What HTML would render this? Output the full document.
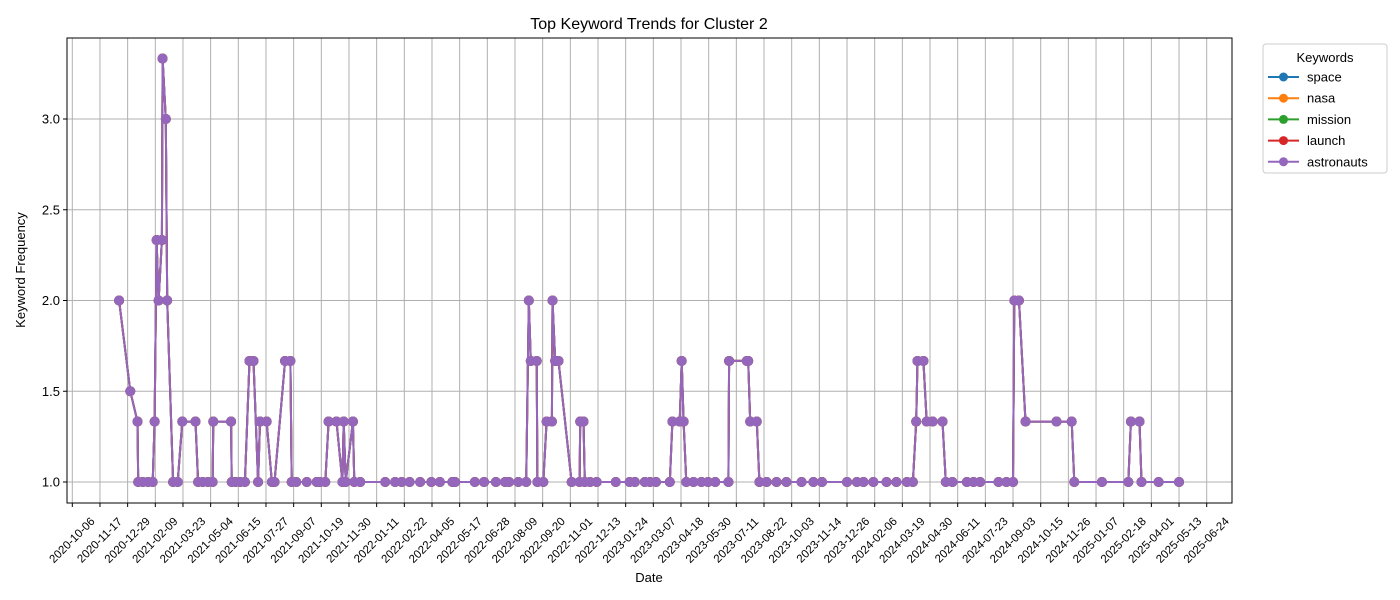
<!DOCTYPE html>
<html><head><meta charset="utf-8"><style>
html,body{margin:0;padding:0;background:#fff;}
svg{display:block;font-family:"Liberation Sans","DejaVu Sans",sans-serif;}
</style></head><body>
<svg id="chart" width="1400" height="600">
<text x="649" y="29" text-anchor="middle" font-size="16" fill="#000">Top Keyword Trends for Cluster 2</text>
<text x="649" y="582" text-anchor="middle" font-size="13">Date</text>
<text transform="translate(25,270) rotate(-90)" text-anchor="middle" font-size="13">Keyword Frequency</text>
<g id="grid"></g><g id="series"></g><g id="axes"></g>
<g id="legend"></g>
</svg>
<script>
const startDate = '2020-10-06';
const dayOffsets = [71,88,99,100,107,115,122,125,128,131,136,137,142,144,153,160,167,187,191,198,206,213,214,241,242,248,255,262,269,275,282,285,295,303,307,323,331,333,340,356,371,376,384,389,401,410,412,415,426,428,437,475,490,500,512,528,545,558,577,581,611,625,643,657,663,677,689,693,696,705,706,715,720,728,729,733,738,758,770,771,776,778,786,796,825,846,854,869,877,886,907,911,922,925,928,932,943,955,965,976,996,997,1024,1026,1029,1039,1043,1054,1069,1084,1107,1125,1138,1176,1191,1201,1216,1236,1251,1267,1276,1281,1283,1292,1297,1306,1321,1326,1336,1358,1368,1378,1406,1418,1428,1430,1437,1447,1494,1517,1521,1563,1603,1607,1620,1623,1649,1680];
const freqValues = [2,1.5,1.333,1,1,1,1,1.333,2.333,2,2.333,3.333,3,2,1,1,1.333,1.333,1,1,1,1,1.333,1.333,1,1,1,1,1.667,1.667,1,1.333,1.333,1,1,1.667,1.667,1,1,1,1,1,1,1.333,1.333,1,1.333,1,1.333,1,1,1,1,1,1,1,1,1,1,1,1,1,1,1,1,1,1,2,1.667,1.667,1,1,1.333,1.333,2,1.667,1.667,1,1,1.333,1.333,1,1,1,1,1,1,1,1,1,1,1.333,1.333,1.667,1.333,1,1,1,1,1,1,1.667,1.667,1.667,1.333,1.333,1,1,1,1,1,1,1,1,1,1,1,1,1,1,1,1.333,1.667,1.667,1.333,1.333,1.333,1,1,1,1,1,1,1,1,2,2,1.333,1.333,1.333,1,1,1,1.333,1.333,1,1,1];
const seriesNames = ['space','nasa','mission','launch','astronauts'];
const seriesColors = ['#1f77b4','#ff7f0e','#2ca02c','#d62728','#9467bd'];
const yTicks = [1.0,1.5,2.0,2.5,3.0];
const xTickCount = 42; const xTickStepDays = 42;

const NS='http://www.w3.org/2000/svg';
const L=67,R=1232,T=38,B=503;
const x0=72.3, pxPerDay=(1206.7-72.3)/1722;
const xs=d=>x0+d*pxPerDay;
const ys=v=>482-(v-1)*181.5;
function mk(tag,attrs,parent){const e=document.createElementNS(NS,tag);for(const k in attrs)e.setAttribute(k,attrs[k]);parent.appendChild(e);return e;}
const grid=document.getElementById('grid'),axes=document.getElementById('axes'),ser=document.getElementById('series'),leg=document.getElementById('legend');
const base=new Date(startDate+'T00:00:00Z');
for(let i=0;i<xTickCount;i++){
  const d=i*xTickStepDays,x=xs(d);
  const gl=mk('line',{x1:x,x2:x,y1:T,y2:B,stroke:'#b0b0b0','stroke-width':1},grid);
  
  
  mk('line',{x1:x,x2:x,y1:B,y2:B+4,stroke:'#000'},axes);
  const dt=new Date(base.getTime()+d*86400000);
  const lab=dt.toISOString().slice(0,10);
  const t=mk('text',{x:0,y:4,'font-size':11.5,'text-anchor':'middle',transform:`translate(${x-0.5},${B+37}) rotate(-45)`},axes);
  t.textContent=lab;
  
  
}
yTicks.forEach(v=>{
  const y=ys(v);
  const gl=mk('line',{x1:L,x2:R,y1:y,y2:y,stroke:'#b0b0b0','stroke-width':1},grid);
  
  
  mk('line',{x1:L-4,x2:L,y1:y,y2:y,stroke:'#000'},axes);
  const t=mk('text',{x:L-7,y:y+4.5,'font-size':13,'text-anchor':'end'},axes);
  t.textContent=v.toFixed(1);
  
  
});
const frame=mk('rect',{x:L,y:T,width:R-L,height:B-T,fill:'none',stroke:'#000','stroke-width':1},axes);


seriesNames.forEach((name,si)=>{
  const g=mk('g',{},ser);
  
  
  const pts=dayOffsets.map((d,i)=>xs(d).toFixed(1)+','+ys(freqValues[i]).toFixed(1)).join(' ');
  const pl=mk('polyline',{points:pts,fill:'none',stroke:seriesColors[si],'stroke-width':2,'stroke-linejoin':'round'},g);
  
  
  dayOffsets.forEach((d,i)=>{
    const c=mk('circle',{cx:xs(d),cy:ys(freqValues[i]),r:5,fill:seriesColors[si]},g);
    
    
  });
});
const box=mk('rect',{x:1263,y:44,width:124,height:129,rx:3,fill:'#fff','fill-opacity':0.8,stroke:'#cccccc'},leg);


const lt=mk('text',{x:1325,y:62,'font-size':13,'text-anchor':'middle'},leg);
lt.textContent='Keywords';


seriesNames.forEach((name,i)=>{
  const y=77+i*21.2;
  const g=mk('g',{},leg);
  
  
  mk('line',{x1:1268,x2:1299,y1:y,y2:y,stroke:seriesColors[i],'stroke-width':2},g);
  mk('circle',{cx:1283.5,cy:y,r:4.5,fill:seriesColors[i]},g);
  const t=mk('text',{x:1307,y:y+4.5,'font-size':13},g);
  t.textContent=name;
});
</script>
</body></html>
